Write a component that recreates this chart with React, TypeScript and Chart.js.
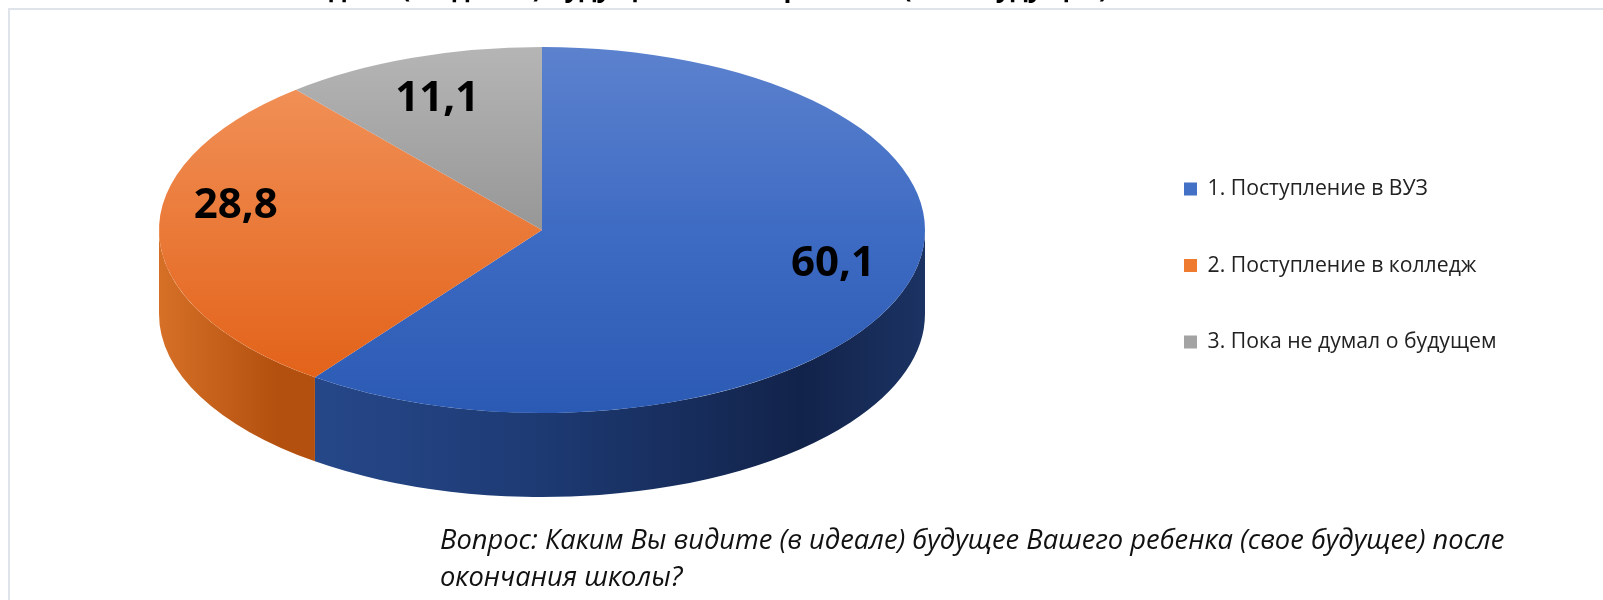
import React, { useEffect, useMemo, useRef } from "react";
import { Chart, registerables } from "chart.js";

Chart.register(...registerables);

// ---------- data ----------
const categories = [
  "1. Поступление в ВУЗ",
  "2. Поступление в колледж",
  "3. Пока не думал о будущем",
];
const values = [60.1, 28.8, 11.1];
const titleText =
  "Каким Вы видите (в идеале) будущее Вашего ребенка (свое будущее) после окончания школы?";
const questionLines = [
  "Вопрос: Каким Вы видите (в идеале) будущее Вашего ребенка (свое будущее) после",
  "окончания школы?",
];

// ---------- layout / style ----------
const FONT = '"Open Sans", "Noto Sans", "DejaVu Sans", sans-serif';
const W = 1603;
const H = 600;
const CX = 542;
const CY = 230;
const RX = 383;
const RY = 183;
const DEPTH = 84;
const PCY = 197; // apparent (perspective) centre of top face, used for label placement
const LABEL_FX = 0.8;
const LABEL_FFRONT = 0.95;
const LABEL_FBACK = 0.72;

const LEGEND_COLORS = ["#4371c6", "#ee7b30", "#a3a3a3"];
const TOP_STOPS: [number, string][][] = [
  [[0, "#5c82ce"], [0.5, "#3e6bc3"], [1, "#2b5ab4"]],
  [[0, "#f3965f"], [1, "#e15d12"]],
  [[0, "#b5b5b5"], [0.5, "#979797"], [1, "#808080"]],
];
const WALL_STOPS: [number, string][][] = [
  [[0, "#2d559f"], [0.155, "#27498c"], [0.5, "#1d3a73"], [0.84, "#12234a"], [1, "#1b3363"]],
  [[0, "#d67027"], [0.155, "#b3500f"], [1, "#b3500f"]],
  [[0, "#8a8a8a"], [1, "#6a6a6a"]],
];

const fmt = (v: number) => v.toFixed(1).replace(".", ",");

function measure(text: string, font: string): number {
  const c = document.createElement("canvas").getContext("2d")!;
  c.font = font;
  return c.measureText(text).width;
}

const pie3d = {
  id: "pie3d",
  beforeDatasetsDraw(chart: any) {
    const ctx: CanvasRenderingContext2D = chart.ctx;
    const arcs = chart.getDatasetMeta(0).data;
    // side walls (front half only)
    arcs.forEach((arc: any, i: number) => {
      const { startAngle, endAngle } = arc.getProps(["startAngle", "endAngle"], true);
      for (let k = -1; k <= 1; k++) {
        const a = Math.max(startAngle, 2 * Math.PI * k);
        const b = Math.min(endAngle, 2 * Math.PI * k + Math.PI);
        if (b <= a) continue;
        const g = ctx.createLinearGradient(CX - RX, 0, CX + RX, 0);
        WALL_STOPS[i % WALL_STOPS.length].forEach(([t, c]) => g.addColorStop(t, c));
        ctx.save();
        ctx.beginPath();
        ctx.ellipse(CX, CY, RX, RY, 0, a, b, false);
        ctx.lineTo(CX + RX * Math.cos(b), CY + DEPTH + RY * Math.sin(b));
        ctx.ellipse(CX, CY + DEPTH, RX, RY, 0, b, a, true);
        ctx.closePath();
        ctx.fillStyle = g;
        ctx.fill();
        ctx.restore();
      }
    });
    // map library circle onto the tilted ellipse
    const { x, y, outerRadius } = arcs[0].getProps(["x", "y", "outerRadius"], true);
    ctx.save();
    ctx.translate(CX, CY);
    ctx.scale(RX / outerRadius, RY / outerRadius);
    ctx.translate(-x, -y);
  },
  afterDatasetsDraw(chart: any) {
    const ctx: CanvasRenderingContext2D = chart.ctx;
    ctx.restore();
    const arcs = chart.getDatasetMeta(0).data;
    const data = chart.data.datasets[0].data as number[];
    ctx.save();
    ctx.font = `bold 42px ${FONT}`;
    ctx.fillStyle = "#000";
    ctx.textAlign = "center";
    ctx.textBaseline = "alphabetic";
    arcs.forEach((arc: any, i: number) => {
      const { startAngle, endAngle } = arc.getProps(["startAngle", "endAngle"], true);
      const mid = (startAngle + endAngle) / 2;
      const s = Math.sin(mid);
      const lx = CX + LABEL_FX * RX * Math.cos(mid);
      const ry = s > 0 ? LABEL_FFRONT * (CY + RY - PCY) : LABEL_FBACK * (PCY - (CY - RY));
      const ly = PCY + ry * s;
      ctx.fillText(fmt(data[i]), lx, ly + 15);
    });
    ctx.restore();
  },
};

export default function App() {
  const ref = useRef<HTMLCanvasElement>(null);

  const sizes = useMemo(() => {
    const legendSize = (100 * 289) / measure(categories[2], `100px ${FONT}`);
    const qSize = (100 * 1065) / measure(questionLines[0], `italic 100px ${FONT}`);
    const tSize = (100 * 1315) / measure(titleText, `bold 100px ${FONT}`);
    const maxText = Math.max(
      ...categories.map((c) => measure(c, `${legendSize}px ${FONT}`))
    );
    return { legendSize, qSize, tSize, maxText };
  }, []);

  useEffect(() => {
    if (!ref.current) return;
    const fs = sizes.legendSize;
    const boxW = 13;
    const pad = 76.5 - fs;
    const colWidth = boxW + fs / 2 + sizes.maxText;
    const padRight = W - 10 - colWidth - 1184;
    const chart = new Chart(ref.current, {
      type: "pie",
      data: {
        labels: categories,
        datasets: [
          {
            data: values,
            backgroundColor: (c: any) => {
              const i = c.dataIndex ?? 0;
              const area = c.chart.chartArea;
              if (!area) return LEGEND_COLORS[i];
              const cy = (area.top + area.bottom) / 2;
              const R = Math.min(area.right - area.left, area.bottom - area.top) / 2;
              const g = c.chart.ctx.createLinearGradient(0, cy - R, 0, cy + R);
              TOP_STOPS[i % TOP_STOPS.length].forEach(([t, col]) => g.addColorStop(t, col));
              return g;
            },
            borderWidth: 0,
            hoverOffset: 0,
            clip: false,
          } as any,
        ],
      },
      options: {
        responsive: false,
        animation: false,
        events: [],
        layout: { padding: { left: 0, top: 0, right: padRight, bottom: 69 } },
        plugins: {
          tooltip: { enabled: false },
          legend: {
            position: "right",
            align: "center",
            labels: {
              boxWidth: boxW,
              boxHeight: boxW,
              padding: pad,
              color: "#222",
              font: { family: FONT, size: fs },
              generateLabels: () =>
                categories.map((text, i) => ({
                  text,
                  fillStyle: LEGEND_COLORS[i],
                  strokeStyle: LEGEND_COLORS[i],
                  lineWidth: 0,
                  hidden: false,
                  index: i,
                  fontColor: "#222",
                })),
            },
          },
        },
      },
      plugins: [pie3d],
    } as any);
    return () => chart.destroy();
  }, [sizes]);

  const qLine = 37;
  const qTop = 549 - ((qLine - 1.362 * sizes.qSize) / 2 + 1.069 * sizes.qSize);
  const tTop = -3 - 1.069 * sizes.tSize;

  return (
    <div
      style={{
        position: "absolute",
        left: 0,
        top: 0,
        width: W,
        height: H,
        overflow: "hidden",
        background: "#fff",
      }}
    >
      <div
        style={{
          position: "absolute",
          left: 8,
          top: 8,
          width: W,
          height: H,
          borderLeft: "2px solid #dfe3ea",
          borderTop: "2px solid #dfe3ea",
          boxSizing: "border-box",
        }}
      />
      <canvas
        ref={ref}
        width={W}
        height={H}
        style={{ position: "absolute", left: 0, top: 0, width: W, height: H }}
      />
      <div
        style={{
          position: "absolute",
          left: 808 - 700,
          width: 1400,
          top: tTop,
          textAlign: "center",
          whiteSpace: "nowrap",
          fontFamily: FONT,
          fontWeight: "bold",
          fontSize: sizes.tSize,
          lineHeight: "normal",
          color: "#000",
        }}
      >
        {titleText}
      </div>
      <div
        style={{
          position: "absolute",
          left: 440,
          top: qTop,
          whiteSpace: "nowrap",
          fontFamily: FONT,
          fontStyle: "italic",
          fontSize: sizes.qSize,
          lineHeight: `${qLine}px`,
          color: "#111",
        }}
      >
        {questionLines.map((l, i) => (
          <div key={i}>{l}</div>
        ))}
      </div>
    </div>
  );
}
